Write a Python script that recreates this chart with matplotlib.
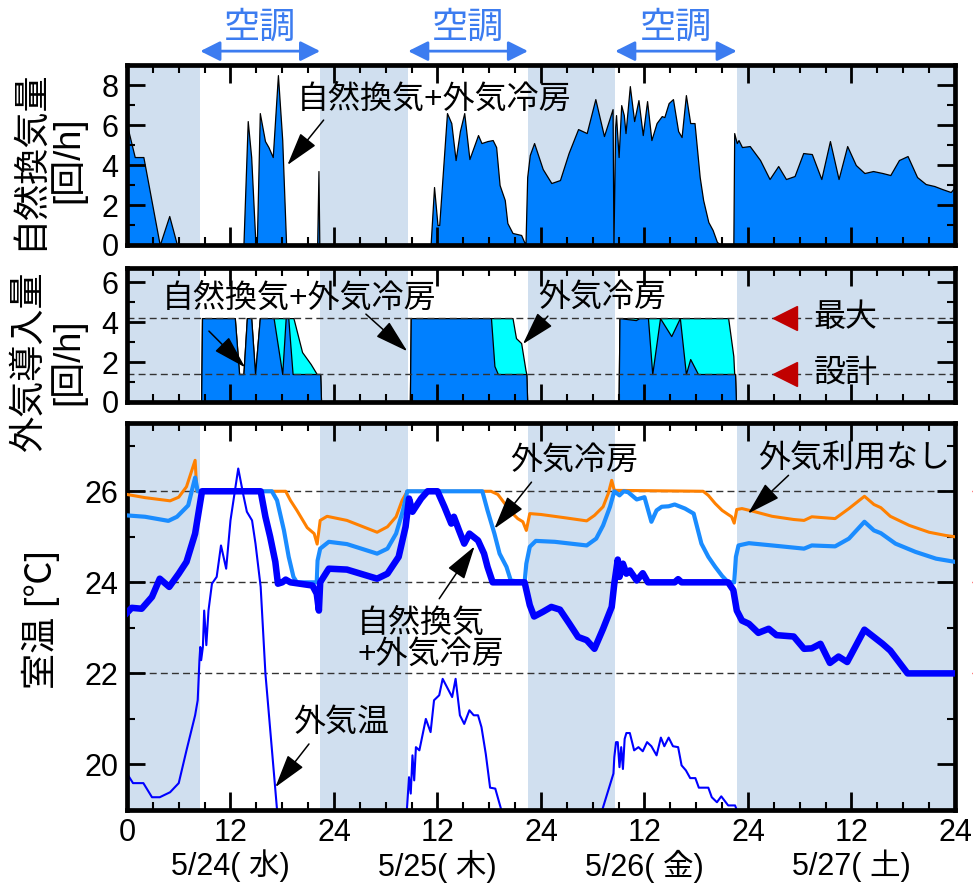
import matplotlib
matplotlib.use('Agg')
import matplotlib.pyplot as plt
from matplotlib.ticker import MultipleLocator

plt.rcParams['font.family'] = ['Liberation Sans', 'Noto Sans CJK JP']
plt.rcParams['font.size'] = 22

# --- data (hours from 5/24 0:00) ---
ac_hours = [(8.5, 22.4), (32.6, 46.5), (56.6, 70.7)]
off_hours = [(0, 8.5), (22.4, 32.6), (46.5, 56.6), (70.7, 96)]

# natural ventilation rate [1/h]
nat_vent = [(0, 6.0), (0.9, 4.4), (1.9, 4.4), (3.8, 0), (4.9, 1.45), (5.8, 0), (13.5, 0),
            (14.0, 6.2), (14.4, 4.4), (14.9, 0), (15.05, 0), (15.4, 6.6), (16.0, 5.2),
            (16.4, 4.9), (16.9, 4.4), (17.5, 8.5), (18.0, 5.25), (18.45, 0), (22.05, 0),
            (22.2, 3.7), (22.3, 0), (35.2, 0), (35.6, 2.9), (36.0, 1.0), (36.2, 1.0),
            (37.1, 6.6), (37.6, 6.1), (38.1, 4.25), (38.6, 5.7), (39.1, 6.6), (39.7, 4.3),
            (40.7, 5.5), (41.1, 5.1), (41.8, 5.2), (42.4, 5.25), (42.8, 4.9), (43.2, 3.0),
            (43.8, 2.25), (44.1, 1.1), (44.7, 0.6), (45.7, 0.5), (46.2, 0), (46.4, 3.4),
            (46.7, 4.5), (47.2, 5.1), (48.2, 3.8), (49.2, 3.1), (50.2, 3.25), (51.2, 4.6),
            (52.3, 5.8), (53.3, 5.6), (54.3, 7.3), (55.3, 5.45), (56.3, 6.8), (56.4, 0),
            (56.6, 5.9), (56.7, 6.5), (57.0, 4.4), (57.3, 7.0), (57.6, 6.5), (57.8, 5.6),
            (58.3, 7.95), (58.8, 6.2), (59.3, 7.25), (59.8, 5.5), (60.3, 7.2), (60.8, 5.25),
            (61.4, 6.1), (62.0, 6.45), (62.3, 6.4), (62.8, 7.1), (63.3, 7.3), (63.9, 5.7),
            (64.3, 5.4), (64.8, 7.5), (65.3, 6.1), (65.8, 6.1), (66.4, 3.4), (66.8, 2.25),
            (67.4, 1.15), (67.9, 0.75), (68.4, 0.15), (68.9, 0), (70.3, 0), (70.4, 5.6),
            (70.7, 5.1), (70.9, 5.25), (71.3, 4.9), (72.2, 4.95), (73.4, 4.25), (74.5, 3.3),
            (75.5, 3.95), (76.4, 3.3), (77.4, 3.45), (78.4, 4.6), (79.4, 4.55), (80.5, 3.3),
            (81.5, 5.2), (82.5, 3.3), (83.5, 4.95), (84.5, 4.0), (85.5, 3.6), (86.5, 3.7),
            (87.6, 3.6), (88.5, 3.5), (89.5, 4.25), (90.5, 4.45), (91.6, 3.4), (92.6, 3.05),
            (93.6, 2.95), (94.5, 2.8), (95.5, 2.65), (96, 2.9)]

# outdoor air intake [1/h]
intake_nv = [(0, 0), (8.6, 0), (8.7, 4.2), (12.5, 4.2), (13.0, 1.4), (13.5, 1.4), (13.9, 4.2),
             (14.4, 4.2), (14.85, 1.4), (15.4, 4.2), (17.0, 4.2), (18.0, 1.4), (18.4, 4.2),
             (18.7, 4.2), (19.2, 1.4), (22.4, 1.4), (22.5, 0), (32.8, 0), (32.9, 4.2),
             (42.2, 4.2), (42.6, 1.8), (43.0, 1.4), (46.3, 1.4), (46.4, 0), (57.0, 0),
             (57.1, 4.2), (59.0, 4.1), (59.4, 4.2), (60.4, 4.2), (60.9, 1.4), (61.8, 4.2),
             (63.1, 3.3), (64.1, 4.2), (64.8, 1.4), (65.3, 2.15), (66.2, 1.4), (70.5, 1.4),
             (70.6, 0), (96, 0)]
intake_oc = [(0, 0), (8.6, 0), (8.7, 4.2), (12.5, 4.2), (13.0, 1.4), (13.5, 1.4), (13.9, 4.2),
             (14.4, 4.2), (14.85, 1.4), (15.4, 4.2), (19.3, 4.2), (20.3, 2.5), (21.3, 1.9),
             (22.0, 1.4), (22.4, 1.4), (22.5, 0), (32.8, 0), (32.9, 4.2), (44.7, 4.2),
             (45.1, 3.2), (45.7, 2.95), (46.2, 1.6), (46.3, 1.4), (46.4, 0), (57.0, 0),
             (57.1, 4.2), (69.7, 4.2), (70.3, 2.3), (70.4, 1.4), (70.5, 1.4), (70.6, 0), (96, 0)]
intake_max = 4.2
intake_design = 1.4

# room temperature [C]
t_none = [(0, 25.93), (2.1, 25.86), (5.0, 25.79), (6.0, 25.87), (6.9, 26.1), (7.9, 26.68),
          (8.1, 26.0), (18.4, 26.0), (18.95, 25.8), (19.7, 25.58), (20.9, 25.2), (21.7, 25.07),
          (22.05, 24.84), (22.4, 25.36), (23.2, 25.45), (25.5, 25.36), (29.0, 25.1),
          (30.2, 25.22), (31.2, 25.44), (31.9, 25.8), (32.5, 26.0), (42.2, 26.0), (43.0, 25.93),
          (43.8, 25.73), (44.5, 25.55), (45.3, 25.4), (45.9, 25.33), (46.3, 25.14),
          (46.7, 25.51), (48.0, 25.49), (50.7, 25.42), (53.3, 25.35), (54.2, 25.47),
          (55.2, 25.66), (55.8, 25.95), (56.2, 26.24), (56.5, 26.02), (66.8, 26.0),
          (67.4, 25.91), (68.2, 25.73), (69.0, 25.58), (69.7, 25.49), (70.1, 25.44),
          (70.4, 25.3), (70.7, 25.6), (71.3, 25.62), (72.4, 25.57), (74.8, 25.45),
          (77.3, 25.38), (78.5, 25.36), (79.4, 25.44), (82.1, 25.4), (83.7, 25.62),
          (85.5, 25.89), (86.6, 25.71), (87.4, 25.64), (88.5, 25.45), (90.7, 25.25),
          (93.0, 25.1), (94.9, 25.03), (96, 25.0)]
t_oc = [(0, 25.47), (2.1, 25.44), (4.8, 25.35), (5.8, 25.44), (7.1, 25.69), (7.9, 26.3),
        (8.2, 26.0), (16.8, 26.0), (17.4, 25.8), (18.2, 25.14), (18.75, 24.56), (19.3, 24.12),
        (19.7, 24.0), (22.0, 24.0), (22.1, 24.48), (22.4, 24.74), (23.4, 24.89), (25.5, 24.84),
        (29.0, 24.63), (30.2, 24.74), (31.2, 25.07), (32.0, 25.58), (32.5, 26.0), (41.2, 26.0),
        (41.8, 25.58), (42.6, 25.07), (43.2, 24.63), (44.0, 24.34), (44.5, 24.04), (46.1, 24.0),
        (46.3, 24.41), (46.7, 24.78), (47.4, 24.91), (49.6, 24.89), (53.3, 24.81),
        (54.4, 24.96), (55.2, 25.25), (56.0, 25.66), (56.5, 26.0), (57.1, 25.91), (57.6, 26.0),
        (58.1, 25.98), (59.1, 25.82), (60.0, 25.87), (60.8, 25.33), (61.4, 25.58),
        (62.0, 25.66), (62.8, 25.67), (63.5, 25.71), (64.7, 25.62), (65.7, 25.51),
        (66.6, 24.85), (67.4, 24.56), (68.2, 24.34), (69.0, 24.14), (69.7, 24.0), (70.4, 24.0),
        (70.6, 24.56), (70.9, 24.81), (72.1, 24.86), (74.8, 24.81), (78.5, 24.74),
        (79.4, 24.81), (82.1, 24.79), (83.7, 24.96), (85.5, 25.33), (86.6, 25.14),
        (87.4, 25.08), (89.1, 24.85), (91.4, 24.67), (93.8, 24.52), (96, 24.45)]
t_nv = [(0, 23.33), (0.55, 23.44), (1.7, 23.42), (2.9, 23.68), (3.8, 24.08), (4.9, 23.9),
        (6.0, 24.19), (6.9, 24.45), (7.9, 25.07), (8.7, 26.0), (15.5, 26.0), (16.05, 25.44),
        (16.6, 25.0), (17.2, 24.45), (17.5, 23.97), (18.0, 24.0), (18.4, 24.06), (18.95, 24.0),
        (21.5, 23.93), (22.0, 23.75), (22.25, 23.38), (22.4, 24.0), (23.4, 24.3), (25.5, 24.28),
        (29.0, 24.08), (30.2, 24.19), (31.5, 24.56), (32.3, 25.22), (32.7, 25.84),
        (33.1, 25.55), (34.1, 25.84), (34.85, 26.0), (36.0, 26.0), (36.8, 25.66),
        (37.6, 25.29), (37.9, 25.44), (38.5, 25.14), (39.1, 24.85), (39.7, 25.07),
        (40.7, 24.92), (41.4, 24.63), (41.8, 24.34), (42.4, 24.0), (46.1, 24.0), (46.7, 23.5),
        (47.2, 23.25), (48.2, 23.35), (49.2, 23.46), (50.2, 23.4), (51.3, 23.09), (52.3, 22.8),
        (53.3, 22.73), (54.2, 22.54), (55.2, 22.98), (56.2, 23.46), (56.5, 23.97), (56.9, 24.5),
        (57.1, 24.12), (57.5, 24.41), (57.9, 24.19), (58.3, 24.26), (59.1, 24.04), (59.8, 24.2),
        (60.4, 24.0), (63.5, 24.0), (63.9, 24.07), (64.3, 24.0), (69.7, 24.0), (70.3, 23.83),
        (70.7, 23.38), (71.3, 23.16), (72.1, 23.09), (73.2, 22.89), (74.4, 22.98),
        (75.3, 22.84), (77.3, 22.81), (78.5, 22.54), (79.4, 22.55), (80.4, 22.65),
        (81.5, 22.23), (82.5, 22.37), (83.5, 22.25), (85.5, 22.96), (87.6, 22.65), (88.5, 22.5),
        (90.5, 22.0), (96, 22.0)]
t_out = [(0, 19.8), (0.7, 19.59), (1.9, 19.59), (2.9, 19.28), (3.8, 19.28), (5.0, 19.39),
         (6.0, 19.59), (6.9, 20.31), (7.9, 21.08), (8.2, 21.41), (8.4, 22.29), (8.5, 22.58),
         (8.6, 22.29), (8.8, 22.58), (8.95, 23.38), (9.2, 22.62), (9.45, 23.38), (9.85, 23.97),
         (10.4, 24.12), (10.9, 24.81), (11.5, 24.3), (12.0, 25.36), (12.9, 26.5), (13.5, 25.91),
         (13.9, 25.55), (14.5, 25.36), (14.9, 24.85), (15.5, 23.9), (16.05, 22.0), (17.4, 19.0),
         (19.0, 17.8), (24.0, 16.5), (30.0, 16.8), (32.45, 19.0), (32.7, 19.72), (32.9, 19.36),
         (33.1, 20.2), (33.3, 19.65), (33.5, 20.38), (33.9, 20.31), (34.65, 21.0),
         (35.2, 20.71), (35.6, 21.41), (36.2, 21.52), (36.6, 21.88), (37.7, 21.48),
         (38.1, 21.88), (38.6, 21.08), (39.1, 20.89), (39.7, 21.19), (40.2, 21.08),
         (40.7, 21.08), (41.1, 20.82), (41.6, 20.23), (42.1, 19.49), (42.7, 19.47), (43.4, 19.0),
         (48.0, 17.5), (53.0, 17.3), (55.1, 19.0), (56.4, 19.8), (56.5, 20.16), (56.7, 20.49),
         (56.9, 20.49), (57.1, 19.94), (57.3, 20.38), (57.5, 19.9), (57.7, 20.56), (57.9, 20.69),
         (58.3, 20.69), (58.8, 20.31), (59.3, 20.38), (59.8, 20.29), (60.3, 20.49), (60.8, 20.4),
         (61.4, 20.2), (61.9, 20.59), (62.3, 20.4), (62.8, 20.59), (63.3, 20.4), (63.9, 20.38),
         (64.3, 19.98), (64.8, 19.87), (65.3, 19.7), (65.9, 19.7), (66.3, 19.49), (67.4, 19.49),
         (67.8, 19.28), (68.4, 19.17), (68.9, 19.3), (69.7, 19.1), (70.5, 19.1), (70.7, 19.0),
         (71.5, 18.97), (74.0, 18.5), (96, 18.0)]
t_setpoints = [26, 24, 22]

xtick_labels = ['0', '12', '24', '12', '24', '12', '24', '12', '24']
day_labels = ['5/24( 水)', '5/25( 木)', '5/26( 金)', '5/27( 土)']
day_centers = [12, 36, 60, 84]

shade = '#d0dfef'
blue_fill = '#0080ff'
ac_color = '#3c7cf0'


def xy(pairs):
    return [p[0] for p in pairs], [p[1] for p in pairs]


def style_axis(ax):
    ax.set_xlim(0, 96)
    ax.xaxis.set_major_locator(MultipleLocator(12))
    ax.xaxis.set_minor_locator(MultipleLocator(3))
    ax.tick_params(which='major', direction='in', length=13, width=2,
                   top=True, right=True, pad=6)
    ax.tick_params(which='minor', direction='in', length=6, width=1.5,
                   top=True, right=True)
    for s in ax.spines.values():
        s.set_linewidth(3.4)
    for a, b in off_hours:
        ax.axvspan(a, b, color=shade, lw=0, zorder=0)


def arrow(ax, tail, head):
    ax.annotate('', xy=head, xytext=tail,
                arrowprops=dict(arrowstyle='-|>,head_length=0.75,head_width=0.22',
                                color='black', lw=1.1, mutation_scale=28,
                                shrinkA=0, shrinkB=0))


fig = plt.figure(figsize=(9.73, 8.86), dpi=100)
L, W = 0.1305, 0.851
ax1 = fig.add_axes([L, 0.7235, W, 0.203])
ax2 = fig.add_axes([L, 0.5463, W, 0.151])
ax3 = fig.add_axes([L, 0.0858, W, 0.4368])

# natural ventilation rate
style_axis(ax1)
h, v = xy(nat_vent)
ax1.fill_between(h, 0, v, facecolor=blue_fill, edgecolor='black', lw=0.9, zorder=1)
ax1.set_ylim(0, 9)
ax1.yaxis.set_major_locator(MultipleLocator(2))
ax1.yaxis.set_minor_locator(MultipleLocator(1))
ax1.tick_params(labelbottom=False)
ax1.text(35.6, 7.25, '自然換気+外気冷房', fontsize=23, ha='center', va='center')
arrow(ax1, (22.8, 6.25), (18.6, 4.0))
for a, b in ac_hours:
    ax1.annotate('', xy=(a, 9.7), xytext=(b, 9.7), annotation_clip=False,
                 arrowprops=dict(arrowstyle='<|-|>,head_length=0.6,head_width=0.3',
                                 color=ac_color, lw=2, mutation_scale=20,
                                 shrinkA=0, shrinkB=0))
    ax1.text((a + b) / 2, 10.85, '空調', color=ac_color, fontsize=26,
             ha='center', va='center')

# outdoor air intake
style_axis(ax2)
h, v = xy(intake_oc)
ax2.fill_between(h, 0, v, facecolor='#00ffff', edgecolor='black', lw=0.9, zorder=1)
h, v = xy(intake_nv)
ax2.fill_between(h, 0, v, facecolor=blue_fill, edgecolor='black', lw=0.9, zorder=1.1)
for lvl in (intake_max, intake_design):
    ax2.axhline(lvl, color='#333333', lw=1, ls=(0, (5, 3)), zorder=2)
ax2.set_ylim(0, 6.7)
ax2.yaxis.set_major_locator(MultipleLocator(2))
ax2.yaxis.set_minor_locator(MultipleLocator(1))
ax2.tick_params(labelbottom=False)
ax2.text(19.9, 5.2, '自然換気+外気冷房', fontsize=23, ha='center', va='center')
arrow(ax2, (9.5, 3.55), (13.7, 1.73))
arrow(ax2, (27.7, 4.4), (32.5, 2.54))
ax2.text(55.1, 5.2, '外気冷房', fontsize=23, ha='center', va='center')
arrow(ax2, (48.8, 4.3), (45.9, 2.9))
ax2.plot([76.3, 76.3], [intake_max, intake_design], ls='none', marker='<',
         ms=17, color='#c00000', zorder=3)
ax2.text(83.3, intake_max, '最大', fontsize=23, ha='center', va='center')
ax2.text(83.3, intake_design, '設計', fontsize=23, ha='center', va='center')

# room temperature
style_axis(ax3)
for t in t_setpoints:
    ax3.axhline(t, color='#333333', lw=1, ls=(0, (5, 3)), zorder=1)
h, v = xy(t_out)
ax3.plot(h, v, color='#0000ff', lw=1.5, zorder=2)
h, v = xy(t_none)
ax3.plot(h, v, color='#ff8000', lw=2.2, zorder=3)
h, v = xy(t_oc)
ax3.plot(h, v, color='#1a8cff', lw=3.0, zorder=4)
h, v = xy(t_nv)
ax3.plot(h, v, color='#0000ff', lw=4.7, zorder=5, solid_joinstyle='round')
ax3.plot([98.3] * 3, t_setpoints, ls='none', marker='+', ms=5, mew=1,
         color='red', clip_on=False)
ax3.set_ylim(19, 27.5)
ax3.yaxis.set_major_locator(MultipleLocator(2))
ax3.yaxis.set_minor_locator(MultipleLocator(1))
ax3.set_xticks(range(0, 97, 12))
ax3.set_xticklabels(xtick_labels)
for x, lab in zip(day_centers, day_labels):
    ax3.text(x, -0.145, lab, transform=ax3.get_xaxis_transform(),
             ha='center', va='center', fontsize=22)

ax3.text(51.9, 26.68, '外気冷房', fontsize=23, ha='center', va='center')
arrow(ax3, (46.9, 26.2), (42.6, 25.18))
ax3.text(84.3, 26.72, '外気利用なし', fontsize=23, ha='center', va='center')
arrow(ax3, (76.7, 26.35), (72.0, 25.51))
ax3.text(26.7, 22.75, '自然換気\n+外気冷房', fontsize=23, ha='left', va='center',
         linespacing=1.05)
arrow(ax3, (36.2, 23.64), (40.3, 24.79))
ax3.text(24.8, 20.92, '外気温', fontsize=23, ha='center', va='center')
arrow(ax3, (21.1, 20.45), (17.2, 19.5))

# y labels
fig.text(49 / 973, 1 - 160 / 886, '自然換気量\n[回/h]', rotation=90, fontsize=26,
         ha='center', va='center', linespacing=1.1)
fig.text(49 / 973, 1 - 362 / 886, '外気導入量\n[回/h]', rotation=90, fontsize=26,
         ha='center', va='center', linespacing=1.1)
fig.text(41 / 973, 1 - 620 / 886, '室温 [℃]', rotation=90, fontsize=26,
         ha='center', va='center')

fig.savefig('out.png', dpi=100)
